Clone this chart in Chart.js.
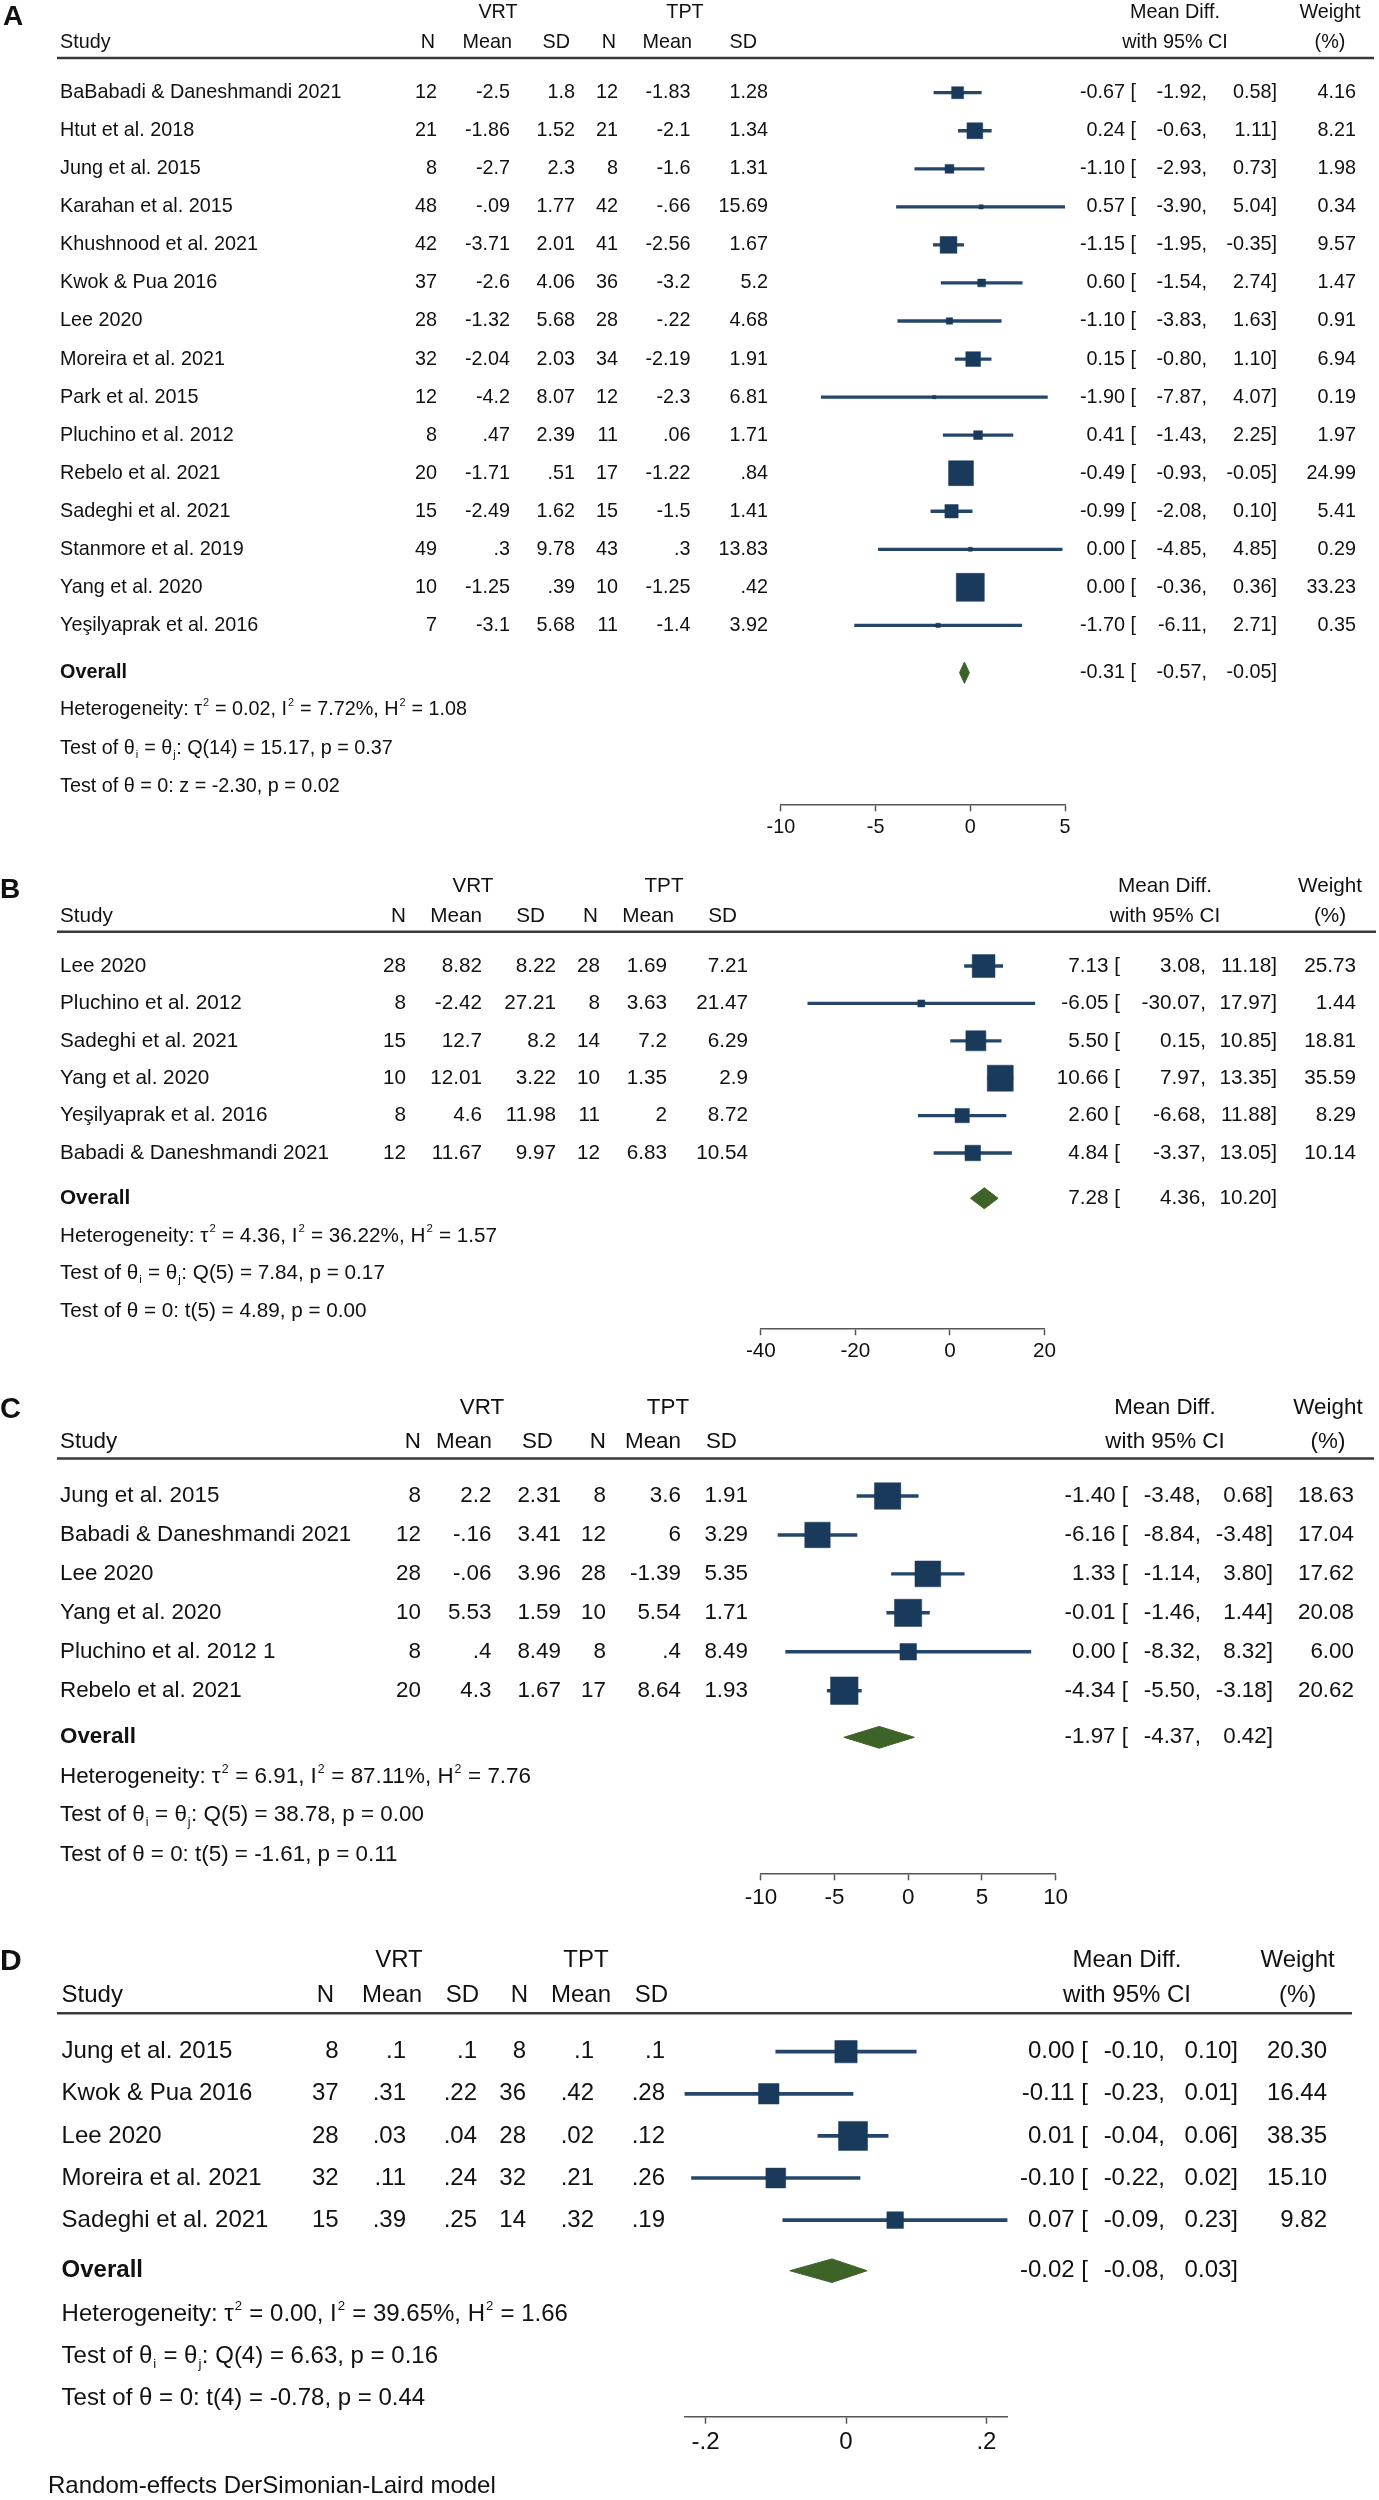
<!DOCTYPE html>
<html lang="en">
<head>
<meta charset="utf-8">
<title>Forest plots VRT vs TPT</title>
<script src="https://cdn.jsdelivr.net/npm/chart.js@4.4.1/dist/chart.umd.min.js"></script>
<style>
    body { margin: 0; background: #fff; }
    #pagina { position: relative; width: 1379px; height: 2500px; overflow: hidden; background: #fff; }
    canvas { position: absolute; left: 0; }
</style>
</head>
<body>
<div id="pagina">
    <canvas id="graficaA" width="1379" height="860" style="top:0px"></canvas>
    <canvas id="graficaB" width="1379" height="530" style="top:860px"></canvas>
    <canvas id="graficaC" width="1379" height="550" style="top:1390px"></canvas>
    <canvas id="graficaD" width="1379" height="560" style="top:1940px"></canvas>
</div>
<script>
// ===============================
// DATOS - PANEL A
// ===============================
const estudiosA = ["BaBabadi & Daneshmandi 2021", "Htut et al. 2018", "Jung et al. 2015", "Karahan et al. 2015",
    "Khushnood et al. 2021", "Kwok & Pua 2016", "Lee 2020", "Moreira et al. 2021", "Park et al. 2015",
    "Pluchino et al. 2012", "Rebelo et al. 2021", "Sadeghi et al. 2021", "Stanmore et al. 2019",
    "Yang et al. 2020", "Yeşilyaprak et al. 2016"];
const vrtNA = ["12", "21", "8", "48", "42", "37", "28", "32", "12", "8", "20", "15", "49", "10", "7"];
const vrtMediaA = ["-2.5", "-1.86", "-2.7", "-.09", "-3.71", "-2.6", "-1.32", "-2.04", "-4.2", ".47", "-1.71", "-2.49", ".3", "-1.25", "-3.1"];
const vrtDEA = ["1.8", "1.52", "2.3", "1.77", "2.01", "4.06", "5.68", "2.03", "8.07", "2.39", ".51", "1.62", "9.78", ".39", "5.68"];
const tptNA = ["12", "21", "8", "42", "41", "36", "28", "34", "12", "11", "17", "15", "43", "10", "11"];
const tptMediaA = ["-1.83", "-2.1", "-1.6", "-.66", "-2.56", "-3.2", "-.22", "-2.19", "-2.3", ".06", "-1.22", "-1.5", ".3", "-1.25", "-1.4"];
const tptDEA = ["1.28", "1.34", "1.31", "15.69", "1.67", "5.2", "4.68", "1.91", "6.81", "1.71", ".84", "1.41", "13.83", ".42", "3.92"];
const difA = [-0.67, 0.24, -1.10, 0.57, -1.15, 0.60, -1.10, 0.15, -1.90, 0.41, -0.49, -0.99, 0.00, 0.00, -1.70];
const infA = [-1.92, -0.63, -2.93, -3.90, -1.95, -1.54, -3.83, -0.80, -7.87, -1.43, -0.93, -2.08, -4.85, -0.36, -6.11];
const supA = [0.58, 1.11, 0.73, 5.04, -0.35, 2.74, 1.63, 1.10, 4.07, 2.25, -0.05, 0.10, 4.85, 0.36, 2.71];
const pesoA = [4.16, 8.21, 1.98, 0.34, 9.57, 1.47, 0.91, 6.94, 0.19, 1.97, 24.99, 5.41, 0.29, 33.23, 0.35];
const globalA = [-0.31, -0.57, -0.05];   // efecto, inferior, superior
const statsA = ["Heterogeneity: τ^2 = 0.02, I^2 = 7.72%, H^2 = 1.08",
    "Test of θ_i = θ_j: Q(14) = 15.17, p = 0.37",
    "Test of θ = 0: z = -2.30, p = 0.02"];
const ticksA = [-10, -5, 0, 5];
const ticksTextoA = ["-10", "-5", "0", "5"];

// ===============================
// DATOS - PANEL B
// ===============================
const estudiosB = ["Lee 2020", "Pluchino et al. 2012", "Sadeghi et al. 2021", "Yang et al. 2020",
    "Yeşilyaprak et al. 2016", "Babadi & Daneshmandi 2021"];
const vrtNB = ["28", "8", "15", "10", "8", "12"];
const vrtMediaB = ["8.82", "-2.42", "12.7", "12.01", "4.6", "11.67"];
const vrtDEB = ["8.22", "27.21", "8.2", "3.22", "11.98", "9.97"];
const tptNB = ["28", "8", "14", "10", "11", "12"];
const tptMediaB = ["1.69", "3.63", "7.2", "1.35", "2", "6.83"];
const tptDEB = ["7.21", "21.47", "6.29", "2.9", "8.72", "10.54"];
const difB = [7.13, -6.05, 5.50, 10.66, 2.60, 4.84];
const infB = [3.08, -30.07, 0.15, 7.97, -6.68, -3.37];
const supB = [11.18, 17.97, 10.85, 13.35, 11.88, 13.05];
const pesoB = [25.73, 1.44, 18.81, 35.59, 8.29, 10.14];
const globalB = [7.28, 4.36, 10.20];
const statsB = ["Heterogeneity: τ^2 = 4.36, I^2 = 36.22%, H^2 = 1.57",
    "Test of θ_i = θ_j: Q(5) = 7.84, p = 0.17",
    "Test of θ = 0: t(5) = 4.89, p = 0.00"];
const ticksB = [-40, -20, 0, 20];
const ticksTextoB = ["-40", "-20", "0", "20"];

// ===============================
// DATOS - PANEL C
// ===============================
const estudiosC = ["Jung et al. 2015", "Babadi & Daneshmandi 2021", "Lee 2020", "Yang et al. 2020",
    "Pluchino et al. 2012 1", "Rebelo et al. 2021"];
const vrtNC = ["8", "12", "28", "10", "8", "20"];
const vrtMediaC = ["2.2", "-.16", "-.06", "5.53", ".4", "4.3"];
const vrtDEC = ["2.31", "3.41", "3.96", "1.59", "8.49", "1.67"];
const tptNC = ["8", "12", "28", "10", "8", "17"];
const tptMediaC = ["3.6", "6", "-1.39", "5.54", ".4", "8.64"];
const tptDEC = ["1.91", "3.29", "5.35", "1.71", "8.49", "1.93"];
const difC = [-1.40, -6.16, 1.33, -0.01, 0.00, -4.34];
const infC = [-3.48, -8.84, -1.14, -1.46, -8.32, -5.50];
const supC = [0.68, -3.48, 3.80, 1.44, 8.32, -3.18];
const pesoC = [18.63, 17.04, 17.62, 20.08, 6.00, 20.62];
const globalC = [-1.97, -4.37, 0.42];
const statsC = ["Heterogeneity: τ^2 = 6.91, I^2 = 87.11%, H^2 = 7.76",
    "Test of θ_i = θ_j: Q(5) = 38.78, p = 0.00",
    "Test of θ = 0: t(5) = -1.61, p = 0.11"];
const ticksC = [-10, -5, 0, 5, 10];
const ticksTextoC = ["-10", "-5", "0", "5", "10"];

// ===============================
// DATOS - PANEL D
// ===============================
const estudiosD = ["Jung et al. 2015", "Kwok & Pua 2016", "Lee 2020", "Moreira et al. 2021", "Sadeghi et al. 2021"];
const vrtND = ["8", "37", "28", "32", "15"];
const vrtMediaD = [".1", ".31", ".03", ".11", ".39"];
const vrtDED = [".1", ".22", ".04", ".24", ".25"];
const tptND = ["8", "36", "28", "32", "14"];
const tptMediaD = [".1", ".42", ".02", ".21", ".32"];
const tptDED = [".1", ".28", ".12", ".26", ".19"];
const difD = [0.00, -0.11, 0.01, -0.10, 0.07];
const infD = [-0.10, -0.23, -0.04, -0.22, -0.09];
const supD = [0.10, 0.01, 0.06, 0.02, 0.23];
const pesoD = [20.30, 16.44, 38.35, 15.10, 9.82];
const globalD = [-0.02, -0.08, 0.03];
const statsD = ["Heterogeneity: τ^2 = 0.00, I^2 = 39.65%, H^2 = 1.66",
    "Test of θ_i = θ_j: Q(4) = 6.63, p = 0.16",
    "Test of θ = 0: t(4) = -0.78, p = 0.44"];
const ticksD = [-0.2, 0, 0.2];
const ticksTextoD = ["-.2", "0", ".2"];
const notaModelo = "Random-effects DerSimonian-Laird model";

// ===============================
// ESTILO
// ===============================
const FUENTE = '"Liberation Sans", Arial, Helvetica, sans-serif';
const ANCHO = 1379;
const AZUL = "#1a3a5c";
const AZUL_LINEA = "#24466b";
const VERDE = "#3e6328";
const GRIS = "#555555";
const TEXTO = "#111111";

// ===============================
// DISPOSICIÓN DE CADA PANEL (px de la página)
// ===============================
const panelA = {
    etiqueta: "A", top: 0, alto: 860, fs: 19.8, fsEtiqueta: 28, xEtiqueta: 3, yEtiqueta: 17,
    estudios: estudiosA, cols: [vrtNA, vrtMediaA, vrtDEA, tptNA, tptMediaA, tptDEA],
    dif: difA, inf: infA, sup: supA, peso: pesoA, global: globalA, stats: statsA,
    ticks: ticksA, ticksTexto: ticksTextoA, rango: [-10, 5],
    yCab1: 13, yCab2: 43, yLinea: 58, lineaX: [57, 1374],
    cab1: [["VRT", 498], ["TPT", 685], ["Mean Diff.", 1175], ["Weight", 1330]],
    cab2: [["Study", 60, "left"], ["N", 435, "right"], ["Mean", 512, "right"], ["SD", 570, "right"],
        ["N", 616, "right"], ["Mean", 692, "right"], ["SD", 757, "right"],
        ["with 95% CI", 1175, "center"], ["(%)", 1330, "center"]],
    xEstudio: 60, colX: [437, 510, 575, 618, 690.5, 768], ciX: [1136, 1207, 1277, 1356],
    fila0: 92.7, paso: 38.05, filaGlobal: 15.243, filasStats: [16.223, 17.23, 18.24],
    ejeY: 804.3, ejeX: [780.9, 1065], ladoMax: 28, grosor: 2.6
};

const panelB = {
    etiqueta: "B", top: 860, alto: 530, fs: 20.7, fsEtiqueta: 28, xEtiqueta: 0, yEtiqueta: 890,
    estudios: estudiosB, cols: [vrtNB, vrtMediaB, vrtDEB, tptNB, tptMediaB, tptDEB],
    dif: difB, inf: infB, sup: supB, peso: pesoB, global: globalB, stats: statsB,
    ticks: ticksB, ticksTexto: ticksTextoB, rango: [-40, 20],
    yCab1: 886, yCab2: 916.7, yLinea: 931.7, lineaX: [57, 1376],
    cab1: [["VRT", 473], ["TPT", 664], ["Mean Diff.", 1165], ["Weight", 1330]],
    cab2: [["Study", 60, "left"], ["N", 406, "right"], ["Mean", 482, "right"], ["SD", 545, "right"],
        ["N", 598, "right"], ["Mean", 674, "right"], ["SD", 737, "right"],
        ["with 95% CI", 1165, "center"], ["(%)", 1330, "center"]],
    xEstudio: 60, colX: [406, 482, 556, 600, 667, 748], ciX: [1120, 1206, 1277, 1356],
    fila0: 966, paso: 37.4, filaGlobal: 6.211, filasStats: [7.219, 8.216, 9.225],
    ejeY: 1328.3, ejeX: [760.9, 1044.4], ladoMax: 26, grosor: 2.6
};

const panelC = {
    etiqueta: "C", top: 1390, alto: 550, fs: 22.4, fsEtiqueta: 29, xEtiqueta: 0, yEtiqueta: 1410,
    estudios: estudiosC, cols: [vrtNC, vrtMediaC, vrtDEC, tptNC, tptMediaC, tptDEC],
    dif: difC, inf: infC, sup: supC, peso: pesoC, global: globalC, stats: statsC,
    ticks: ticksC, ticksTexto: ticksTextoC, rango: [-10, 10],
    yCab1: 1408, yCab2: 1441.6, yLinea: 1458.4, lineaX: [57, 1374],
    cab1: [["VRT", 482], ["TPT", 668], ["Mean Diff.", 1165], ["Weight", 1328]],
    cab2: [["Study", 60, "left"], ["N", 421, "right"], ["Mean", 492, "right"], ["SD", 553, "right"],
        ["N", 606, "right"], ["Mean", 681, "right"], ["SD", 737, "right"],
        ["with 95% CI", 1165, "center"], ["(%)", 1328, "center"]],
    xEstudio: 60, colX: [421, 491.5, 561, 606, 681, 748], ciX: [1128, 1201, 1273, 1354],
    fila0: 1496, paso: 38.94, filaGlobal: 6.197, filasStats: [7.209, 8.192, 9.219],
    ejeY: 1873.3, ejeX: [760.9, 1055.6], ladoMax: 27.5, grosor: 2.8
};

const panelD = {
    etiqueta: "D", top: 1940, alto: 560, fs: 24, fsEtiqueta: 30, xEtiqueta: 0, yEtiqueta: 1962,
    estudios: estudiosD, cols: [vrtND, vrtMediaD, vrtDED, tptND, tptMediaD, tptDED],
    dif: difD, inf: infD, sup: supD, peso: pesoD, global: globalD, stats: statsD,
    ticks: ticksD, ticksTexto: ticksTextoD, rango: [-0.23, 0.23],
    yCab1: 1960, yCab2: 1995, yLinea: 2013.3, lineaX: [57, 1352],
    cab1: [["VRT", 399], ["TPT", 586], ["Mean Diff.", 1127], ["Weight", 1297.6]],
    cab2: [["Study", 61.6, "left"], ["N", 334, "right"], ["Mean", 422, "right"], ["SD", 479, "right"],
        ["N", 528, "right"], ["Mean", 611, "right"], ["SD", 668, "right"],
        ["with 95% CI", 1127, "center"], ["(%)", 1297.6, "center"]],
    xEstudio: 61.6, colX: [338.6, 406, 477, 526, 594, 665], ciX: [1088, 1165, 1238, 1327],
    fila0: 2051.7, paso: 42.1, filaGlobal: 5.202, filasStats: [6.23, 7.245, 8.233],
    ejeY: 2416.7, ejeX: [684.5, 1007.5], ladoMax: 29, grosor: 3,
    nota: [notaModelo, 48, 2486.7]
};

// lado del cuadrado según el peso (como en la figura original)
const EXPONENTE_LADO = 0.41;

// ===============================
// TEXTO CON SUPER/SUBÍNDICES (^x, _x)
// ===============================
function textoRico(ctx, texto, x, y, fs) {
    const partes = texto.split(/([\^_].)/).filter(s => s.length);
    let cx = x;
    partes.forEach(s => {
        if (s[0] === "^" || s[0] === "_") {
            ctx.font = `${fs * 0.55}px ${FUENTE}`;
            const dy = s[0] === "^" ? -fs * 0.33 : fs * 0.32;
            ctx.fillText(s[1], cx + 1, y + dy);
            cx += ctx.measureText(s[1]).width + 1.5;
        } else {
            ctx.font = `${fs}px ${FUENTE}`;
            ctx.fillText(s, cx, y);
            cx += ctx.measureText(s).width;
        }
    });
}

// ===============================
// PLUGIN: TABLA DEL FOREST PLOT
// ===============================
function pluginTabla(p) {
    return {
        id: "tabla" + p.etiqueta,
        afterDraw(chart) {
            const ctx = chart.ctx;
            const ys = chart.scales.y;
            const Y = v => v - p.top;
            ctx.save();
            ctx.fillStyle = TEXTO;
            ctx.textBaseline = "middle";

            // letra del panel
            ctx.font = `bold ${p.fsEtiqueta}px ${FUENTE}`;
            ctx.textAlign = "left";
            ctx.fillText(p.etiqueta, p.xEtiqueta, Y(p.yEtiqueta));

            // cabeceras
            ctx.font = `${p.fs}px ${FUENTE}`;
            ctx.textAlign = "center";
            p.cab1.forEach(([t, x]) => ctx.fillText(t, x, Y(p.yCab1)));
            p.cab2.forEach(([t, x, al]) => {
                ctx.textAlign = al;
                ctx.fillText(t, x, Y(p.yCab2));
            });

            ctx.strokeStyle = "#3a3a3a";
            ctx.lineWidth = 2.5;
            ctx.beginPath();
            ctx.moveTo(p.lineaX[0], Y(p.yLinea));
            ctx.lineTo(p.lineaX[1], Y(p.yLinea));
            ctx.stroke();

            // filas de estudios
            p.estudios.forEach((nombre, i) => {
                const y = ys.getPixelForValue(i);
                ctx.textAlign = "left";
                ctx.fillText(nombre, p.xEstudio, y);
                ctx.textAlign = "right";
                p.cols.forEach((col, k) => ctx.fillText(col[i], p.colX[k], y));
                ctx.fillText(p.dif[i].toFixed(2) + " [", p.ciX[0], y);
                ctx.fillText(p.inf[i].toFixed(2) + ",", p.ciX[1], y);
                ctx.fillText(p.sup[i].toFixed(2) + "]", p.ciX[2], y);
                ctx.fillText(p.peso[i].toFixed(2), p.ciX[3], y);
            });

            // fila global
            const yg = ys.getPixelForValue(p.filaGlobal);
            ctx.fillText(p.global[0].toFixed(2) + " [", p.ciX[0], yg);
            ctx.fillText(p.global[1].toFixed(2) + ",", p.ciX[1], yg);
            ctx.fillText(p.global[2].toFixed(2) + "]", p.ciX[2], yg);
            ctx.textAlign = "left";
            ctx.font = `bold ${p.fs}px ${FUENTE}`;
            ctx.fillText("Overall", p.xEstudio, yg);

            // estadísticos
            p.stats.forEach((s, k) => textoRico(ctx, s, p.xEstudio, ys.getPixelForValue(p.filasStats[k]), p.fs));

            if (p.nota) {
                ctx.font = `${p.fs}px ${FUENTE}`;
                ctx.fillText(p.nota[0], p.nota[1], Y(p.nota[2]));
            }
            ctx.restore();
        }
    };
}

// ===============================
// CREAR UN PANEL
// ===============================
function crearPanel(id, p) {
    const wMax = Math.max(...p.peso);
    const fila0 = p.fila0 - p.top;
    const ejeY = p.ejeY - p.top;
    const g = p.filaGlobal;
    const medio = 0.28;   // media altura del rombo, en filas
    const [gEst, gInf, gSup] = p.global;

    return new Chart(document.getElementById(id), {
        type: "scatter",
        data: {
            datasets: [
                {
                    type: "scatter",
                    data: p.dif.map((d, i) => ({ x: d, y: i })),
                    pointStyle: "rect",
                    pointRadius: p.peso.map(w => p.ladoMax * Math.pow(w / wMax, EXPONENTE_LADO) / Math.SQRT2),
                    backgroundColor: AZUL,
                    borderColor: AZUL,
                    borderWidth: 0.5,
                    order: 0
                },
                {
                    type: "bar",
                    indexAxis: "y",
                    data: p.dif.map((d, i) => ({ x: [p.inf[i], p.sup[i]], y: i })),
                    backgroundColor: AZUL_LINEA,
                    barThickness: p.grosor,
                    borderWidth: 0,
                    order: 1
                },
                {
                    type: "line",
                    data: [{ x: gInf, y: g }, { x: gEst, y: g - medio }, { x: gSup, y: g }],
                    fill: "+1",
                    backgroundColor: VERDE,
                    borderColor: VERDE,
                    borderWidth: 1,
                    pointRadius: 0,
                    order: 2
                },
                {
                    type: "line",
                    data: [{ x: gInf, y: g }, { x: gEst, y: g + medio }, { x: gSup, y: g }],
                    fill: false,
                    borderColor: VERDE,
                    borderWidth: 1,
                    pointRadius: 0,
                    order: 2
                }
            ]
        },
        options: {
            responsive: false,
            animation: false,
            events: [],
            layout: {
                autoPadding: false,
                padding: { left: p.ejeX[0], right: ANCHO - p.ejeX[1], top: 0, bottom: 0 }
            },
            plugins: { legend: { display: false }, tooltip: { enabled: false } },
            scales: {
                x: {
                    type: "linear",
                    min: p.rango[0],
                    max: p.rango[1],
                    bounds: "data",
                    offset: false,
                    afterBuildTicks: s => { s.ticks = p.ticks.map(v => ({ value: v })); },
                    afterFit: s => { s.height = p.alto - ejeY; },
                    grid: { drawOnChartArea: false, drawTicks: true, tickLength: 7, tickWidth: 1.5, tickColor: GRIS },
                    border: { display: true, color: GRIS, width: 1.5 },
                    ticks: {
                        color: TEXTO, padding: 4, maxRotation: 0, autoSkip: false,
                        font: { family: FUENTE, size: p.fs },
                        callback: (v, i) => p.ticksTexto[i]
                    }
                },
                y: {
                    type: "linear",
                    display: false,
                    reverse: true,
                    offset: false,
                    bounds: "data",
                    grid: { offset: false },
                    min: -fila0 / p.paso,
                    max: (ejeY - fila0) / p.paso
                }
            }
        },
        plugins: [pluginTabla(p)]
    });
}

crearPanel("graficaA", panelA);
crearPanel("graficaB", panelB);
crearPanel("graficaC", panelC);
crearPanel("graficaD", panelD);
</script>
</body>
</html>
